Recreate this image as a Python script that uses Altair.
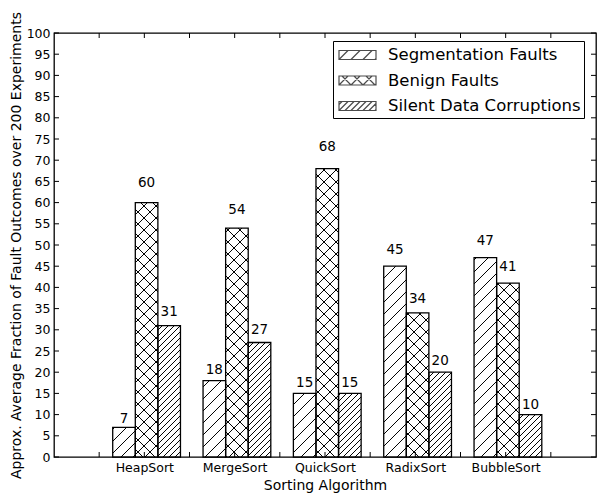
import json
import numpy as np
import pandas as pd
import altair as alt

# ---- data ----------------------------------------------------------------
algorithms = ["HeapSort", "MergeSort", "QuickSort", "RadixSort", "BubbleSort"]
series_names = ["Segmentation Faults", "Benign Faults", "Silent Data Corruptions"]
segmentation_faults = [7, 18, 15, 45, 47]
benign_faults = [60, 54, 68, 34, 41]
silent_data_corruptions = [31, 27, 15, 20, 10]
y_tick_values = list(range(0, 105, 5))
x_tick_values = [0.5, 1.0, 1.5, 2.0, 2.5, 3.0, 3.5, 4.0, 4.5, 5.0, 5.5]

# ---- layout / style ------------------------------------------------------
W, H = 542, 424
PAD_L, PAD_T, PAD_R, PAD_B = 54, 33, 1, 37
X_MAX, Y_MAX = 6, 100
BAR_W = 0.25
GROUP_LEFT = -0.35
TICK = 5
FONT = "DejaVu Sans"
TICK_FONT = 12.5
VALUE_FONT = 13.5
SX = W / X_MAX
SY = H / Y_MAX
hatch_styles = {  # pattern kind, line spacing in px
    "Segmentation Faults": ("/", 12),
    "Benign Faults": ("x", 12),
    "Silent Data Corruptions": ("/", 6),
}


def hatch_segments(x0, x1, y0, y1, kind, step):
    """45-degree hatch lines clipped to the pixel box [x0,x1]x[y0,y1] (y up)."""
    dirs = []
    if kind in ("/", "x"):
        dirs.append(1)
    if kind in ("\\", "x"):
        dirs.append(-1)
    segs = []
    for d in dirs:
        if d == 1:
            cmin, cmax = y0 - x1, y1 - x0
        else:
            cmin, cmax = y0 + x0, y1 + x1
        for k in range(int(np.ceil(cmin / step)), int(np.floor(cmax / step)) + 1):
            c = k * step
            if d == 1:
                xa, xb = max(x0, y0 - c), min(x1, y1 - c)
            else:
                xa, xb = max(x0, c - y1), min(x1, c - y0)
            if xb - xa > 0.5:
                segs.append((xa, d * xa + c, xb, d * xb + c))
    return segs


# ---- bar table -----------------------------------------------------------
rows = []
for j, (name, vals) in enumerate(
    zip(series_names, [segmentation_faults, benign_faults, silent_data_corruptions])
):
    for i, v in enumerate(vals):
        x0 = (i + 1) + GROUP_LEFT + j * BAR_W
        rows.append({"series": name, "algorithm": algorithms[i], "x0": x0,
                     "x1": x0 + BAR_W, "xc": x0 + BAR_W / 2, "value": v})
bars = pd.DataFrame(rows)

# hatch line segments, built in figure pixels so the pattern is continuous
hatch_rows = []
for r in bars.itertuples():
    kind, step = hatch_styles[r.series]
    bx0, bx1 = PAD_L + r.x0 * SX, PAD_L + r.x1 * SX
    by0, by1 = PAD_B, PAD_B + r.value * SY
    for xa, ya, xb, yb in hatch_segments(bx0, bx1, by0, by1, kind, step):
        hatch_rows.append({"hx": (xa - PAD_L) / SX, "hy": (ya - PAD_B) / SY,
                           "hx2": (xb - PAD_L) / SX, "hy2": (yb - PAD_B) / SY})
hatch_df = pd.DataFrame(hatch_rows)

# ---- legend swatches as custom symbol paths ------------------------------
LEG_FONT = 16.5
SYM_SIDE = 20.8                      # sqrt(symbolSize): one path unit = SYM_SIDE / 2 px
SYM_SW = 1.2
ENTRY = max(np.ceil(SYM_SIDE + SYM_SW), LEG_FONT)   # Vega's per-entry size
UNIT = SYM_SIDE / 2
CENTER = ENTRY / 2
SW_X0, SW_W, SW_H = 3.0, 37.0, 9.0   # swatch left edge / size inside an entry, px
LABEL_GAP = 12.0


def swatch_path(kind, step):
    def ux(px):
        return (SW_X0 + px - CENTER) / UNIT

    def uy(py):
        return -(py - SW_H / 2) / UNIT

    parts = [f"M{ux(0):.4f},{uy(0):.4f}H{ux(SW_W):.4f}V{uy(SW_H):.4f}H{ux(0):.4f}Z"]
    for xa, ya, xb, yb in hatch_segments(0, SW_W, 0, SW_H, kind, step):
        parts.append(f"M{ux(xa):.4f},{uy(ya):.4f}L{ux(xb):.4f},{uy(yb):.4f}")
    return "".join(parts)


swatches = [swatch_path(*hatch_styles[s]) for s in series_names]

# ---- chart ---------------------------------------------------------------
x_scale = alt.Scale(domain=[0, X_MAX], nice=False, zero=False)
y_scale = alt.Scale(domain=[0, Y_MAX], nice=False)

x_axis = alt.Axis(
    values=[1, 2, 3, 4, 5],
    labelExpr=f"{json.dumps(algorithms)}[datum.value - 1]",
    ticks=False, tickSize=0, domain=False, grid=False,
    labelFontSize=TICK_FONT, labelPadding=4, labelAngle=0,
    title="Sorting Algorithm", titleFontSize=14, titleFontWeight="normal",
    titleBaseline="alphabetic", titleY=32,
)
y_axis = alt.Axis(
    values=y_tick_values,
    ticks=False, tickSize=0, domain=False, grid=False,
    labelFontSize=TICK_FONT, labelPadding=4,
    title="Approx. Average Fraction of Fault Outcomes over 200 Experiments",
    titleFontSize=14, titleFontWeight="normal",
    titleBaseline="alphabetic", titleAngle=270, titleX=-34, titleY=H / 2,
)


def X(field):
    return alt.X(field, scale=x_scale, axis=x_axis)


def Y(field):
    return alt.Y(field, scale=y_scale, axis=y_axis)


base = alt.Chart(bars)

fill = base.mark_rect(fill="white", strokeWidth=0).encode(
    x=X("x0:Q"), x2="x1:Q", y=Y("value:Q"), y2=alt.datum(0),
)

hatch = alt.Chart(hatch_df).mark_rule(color="black", strokeWidth=1).encode(
    x=X("hx:Q"), x2="hx2:Q", y=Y("hy:Q"), y2="hy2:Q",
)

outline = base.mark_rect(fillOpacity=0, stroke="black", strokeWidth=1.3).encode(
    x=X("x0:Q"), x2="x1:Q", y=Y("value:Q"), y2=alt.datum(0),
)

yt = alt.Chart(pd.DataFrame({"t": y_tick_values}))
xt = alt.Chart(pd.DataFrame({"t": x_tick_values}))
ticks_left = yt.mark_rule(color="black", strokeWidth=1).encode(
    y=Y("t:Q"), x=alt.value(0), x2=alt.value(TICK))
ticks_right = yt.mark_rule(color="black", strokeWidth=1).encode(
    y=Y("t:Q"), x=alt.value(W - TICK), x2=alt.value(W))
ticks_bottom = xt.mark_rule(color="black", strokeWidth=1).encode(
    x=X("t:Q"), y=alt.value(H - TICK), y2=alt.value(H))
ticks_top = xt.mark_rule(color="black", strokeWidth=1).encode(
    x=X("t:Q"), y=alt.value(0), y2=alt.value(TICK))

labels = base.mark_text(
    baseline="bottom", align="center", fontSize=VALUE_FONT, font=FONT, color="black"
).encode(
    x=X("xc:Q"),
    y=Y("label_y:Q"),
    text=alt.Text("value:Q", format="d"),
).transform_calculate(label_y="datum.value * 1.05")

legend_layer = base.mark_point(filled=False, color="black", strokeWidth=SYM_SW).encode(
    x=X("xc:Q"),
    y=Y("value:Q"),
    shape=alt.Shape(
        "series:N",
        scale=alt.Scale(domain=series_names, range=swatches),
        legend=alt.Legend(
            title=None, orient="none", legendX=279, legendY=8,
            padding=3, rowPadding=5.5,
            labelFont=FONT, labelFontSize=LEG_FONT, labelColor="black",
            labelOffset=SW_X0 + SW_W + LABEL_GAP - ENTRY, labelLimit=400,
            symbolSize=SYM_SIDE * SYM_SIDE, symbolStrokeWidth=SYM_SW,
            symbolStrokeColor="black",
            strokeColor="black", fillColor="white", cornerRadius=0,
        ),
    ),
).transform_filter("false")

chart = alt.layer(
    fill, hatch, outline, ticks_left, ticks_right, ticks_bottom, ticks_top,
    labels, legend_layer,
).properties(
    width=W, height=H,
    padding={"left": PAD_L, "top": PAD_T, "right": PAD_R, "bottom": PAD_B},
    autosize=alt.AutoSizeParams(type="none"),
    background="white",
).configure_view(
    stroke="black", strokeWidth=1.3
).configure_axis(
    labelFont=FONT, titleFont=FONT, labelColor="black", titleColor="black",
)

chart.save("out.html", embed_options={"renderer": "svg", "actions": False})
